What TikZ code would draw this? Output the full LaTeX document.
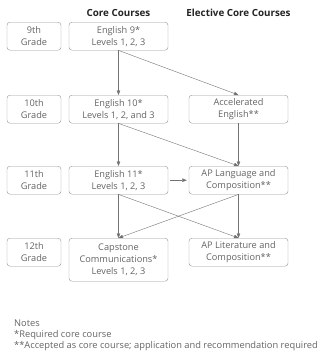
\documentclass[tikz,border=0pt]{standalone}
\usepackage{fontspec}
\setmainfont{Open Sans}
\usetikzlibrary{arrows.meta,positioning}
\definecolor{boxGray}{RGB}{150,150,150}
\definecolor{textGray}{RGB}{100,100,100}
\definecolor{lineGray}{RGB}{115,115,115}
\definecolor{headDark}{RGB}{35,35,35}

\tikzset{
  gradebox/.style={draw=boxGray, rounded corners=3pt, anchor=north, align=center,
    minimum width=54pt, minimum height=28pt, inner sep=1pt, text=textGray,
    font=\fontsize{9.2}{12}\selectfont},
  coursebox/.style={gradebox, minimum width=99pt},
  header/.style={font=\bfseries\fontsize{9.8}{12}\selectfont, text=headDark},
  flow/.style={draw=lineGray, -{Triangle[length=4.5pt,width=3.5pt]}},
}

\begin{document}
\begin{tikzpicture}[x=1pt,y=-1pt]
  \useasboundingbox (0,0) rectangle (324,360);

  % headings
  \node[header] (hcore) at (118.5,13) {Core Courses};
  \node[header] (helec) at (238.5,13) {Elective Core Courses};

  % grades
  \node[gradebox] (g9)  at (34,22)  {9th\\Grade};
  \node[gradebox] (g10) at (34,95)  {10th\\Grade};
  \node[gradebox] (g11) at (34,166) {11th\\Grade};
  \node[gradebox] (g12) at (34,238) {12th\\Grade};

  % core courses
  \node[coursebox] (e9)  at (118.5,22)  {English 9*\\Levels 1, 2, 3};
  \node[coursebox] (e10) at (118.5,95)  {English 10*\\Levels 1, 2, and 3};
  \node[coursebox] (e11) at (118.5,166) {English 11*\\Levels 1, 2, 3};
  \node[coursebox, minimum height=43pt] (cap) at (118.5,238)
    {Capstone\\Communications*\\Levels 1, 2, 3};

  % elective core courses
  \node[coursebox] (acc) at (238.5,95)  {Accelerated\\English**};
  \node[coursebox] (apl) at (238.5,166) {AP Language and\\Composition**};
  \node[coursebox] (apt) at (238.5,238) {AP Literature and\\Composition**};

  % connectors
  \draw[flow] (e9.south) -- (e10.north);
  \draw[flow] (e9.south) -- (acc.north);
  \draw[flow] (e10.south) -- (e11.north);
  \draw[flow] (e10.south) -- (apl.north);
  \draw[flow] (acc.south) -- (apl.north);
  \draw[flow, shorten <=2pt, shorten >=2pt] (e11.east) -- (apl.west);
  \draw[flow] (e11.south) -- (cap.north);
  \draw[flow] (e11.south) -- (apt.north);
  \draw[flow] (apl.south) -- (cap.north);
  \draw[flow] (apl.south) -- (apt.north);

  % notes
  \node[anchor=north west, align=left, inner sep=0pt, text=textGray,
    font=\fontsize{9.3}{11}\selectfont] (notes) at (14,320)
    {Notes\\*Required core course\\**Accepted as core course; application and recommendation required};
\end{tikzpicture}
\end{document}
